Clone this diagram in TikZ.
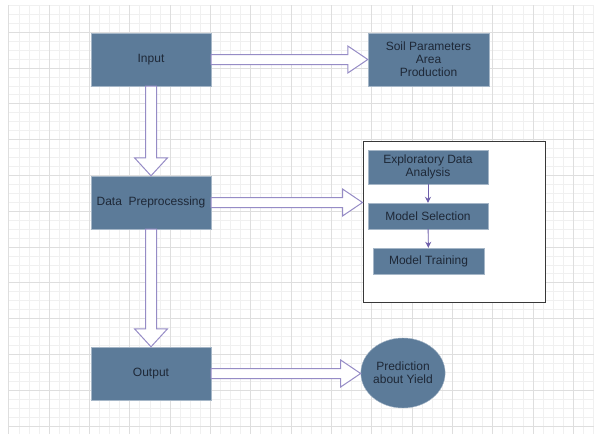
\documentclass[tikz,border=0pt]{standalone}
\usepackage{fontspec}
\setmainfont{Liberation Sans}
\usetikzlibrary{calc}
\usetikzlibrary{arrows.meta}
\usetikzlibrary{shapes.geometric}
\definecolor{mblue}{RGB}{92,123,153}
\definecolor{mtext}{RGB}{30,40,55}
\definecolor{mpurple}{RGB}{150,140,198}
\definecolor{mdark}{RGB}{110,95,170}
\tikzset{box/.style = {draw=mblue!55!white, fill=mblue, text=mtext, inner sep = 0, align=center, font=\fontsize{12}{12.8}\selectfont}}
\tikzset{hollow/.style = {draw=mpurple, fill=white, line width=1}}
\tikzset{minorline/.style = {draw=black!6, line width=0.5}}
\tikzset{majorline/.style = {draw=black!13, line width=0.7}}
\newcommand{\harrow}[2]{%
  \draw [hollow] ($(#1.east)+(0,-5)$) -- ($(#2.west |- #1.east)+(-20,-5)$)
    -- ($(#2.west |- #1.east)+(-20,-13.5)$) -- (#2.west |- #1.east)
    -- ($(#2.west |- #1.east)+(-20,13.5)$) -- ($(#2.west |- #1.east)+(-20,5)$)
    -- ($(#1.east)+(0,5)$) -- cycle;}
\newcommand{\varrow}[2]{%
  \draw [hollow] ($(#1.south)+(-5.5,0)$) -- ($(#2.north)+(-5.5,-18)$)
    -- ($(#2.north)+(-16.5,-18)$) -- (#2.north)
    -- ($(#2.north)+(16.5,-18)$) -- ($(#2.north)+(5.5,-18)$)
    -- ($(#1.south)+(5.5,0)$) -- cycle;}

\begin{document}
\begin{tikzpicture}[x=1pt, y=-1pt]
  \useasboundingbox [fill=white] (0, 0) rectangle (594, 434);

  \foreach \i in {0,...,58} {
    \draw [minorline] ({8.7+10.08*\i}, 5) -- ({8.7+10.08*\i}, 434);
  }
  \foreach \j in {0,...,47} {
    \draw [minorline] (8.7, {5.2+8.95*\j}) -- (594, {5.2+8.95*\j});
  }
  \foreach \i in {0,...,14} {
    \draw [majorline] ({8.7+40.32*\i}, 5) -- ({8.7+40.32*\i}, 434);
  }
  \foreach \j in {0,...,11} {
    \draw [majorline] (8.7, {32.05+35.8*\j}) -- (594, {32.05+35.8*\j});
  }

  \node [draw=black!78, fill=white, line width=1, minimum width=182, minimum height=161] (frame) at (454, 221.5) {};

  \node [box, minimum width=120, minimum height=53] (input) at (151, 59.5) {Input};
  \node [box, minimum width=121, minimum height=53] (soil) at (428.5, 59.5) {Soil Parameters\\Area\\Production};
  \node [box, minimum width=120, minimum height=53] (prep) at (151, 202.5) {Data~~Preprocessing};
  \node [box, minimum width=120, minimum height=53] (output) at (151, 373.5) {Output};
  \node [box, ellipse, minimum width=80, minimum height=70] (pred) at (403, 373) {Prediction\\about Yield};

  \node [box, minimum width=120, minimum height=34] (eda) at (428, 167) {Exploratory Data\\Analysis};
  \node [box, minimum width=120, minimum height=26] (select) at (428, 216) {Model Selection};
  \node [box, minimum width=111, minimum height=26] (train) at (428.5, 261) {Model Training};

  \harrow{input}{soil}
  \harrow{prep}{frame}
  \harrow{output}{pred}
  \varrow{input}{prep}
  \varrow{prep}{output}

  \draw [mdark, line width=0.9, -{Stealth[length=6, width=6]}] (eda) -- (select);
  \draw [mdark, line width=0.9, -{Stealth[length=6, width=6]}] (select) -- (train);
\end{tikzpicture}
\end{document}
